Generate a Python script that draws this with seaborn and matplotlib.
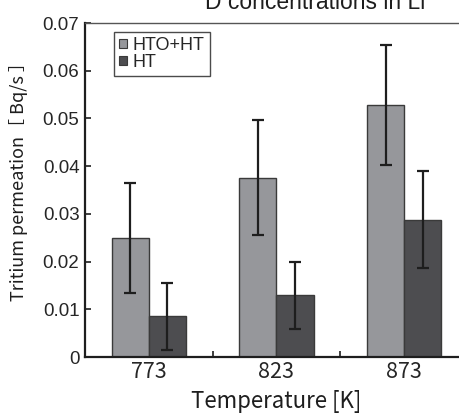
import numpy as np
import pandas as pd
import matplotlib
matplotlib.use("Agg")
import matplotlib.pyplot as plt
import seaborn as sns
from matplotlib.patches import Patch

# ================= DATA =================
temps = ["773", "823", "873"]
series = ["HTO+HT", "HT"]
hto_ht = [0.0250, 0.0376, 0.0528]
hto_ht_err = [0.0115, 0.0120, 0.0126]
ht = [0.0085, 0.0129, 0.0288]
ht_err = [0.0070, 0.0070, 0.0102]
colors = ["#96979b", "#4d4d50"]

df = pd.DataFrame({
    "temp": temps * 2,
    "kind": [series[0]] * 3 + [series[1]] * 3,
    "value": hto_ht + ht,
    "err": hto_ht_err + ht_err,
})

sns.set_style("white")
plt.rcParams["font.family"] = ["Liberation Sans", "DejaVu Sans"]
cjk = ["Noto Sans CJK JP", "DejaVu Sans"]

fig = plt.figure(figsize=(4.59, 4.20), dpi=100)
ax = fig.add_axes([85 / 459, 63 / 420, 383 / 459, 334 / 420])

sns.barplot(data=df, x="temp", y="value", hue="kind", order=temps,
            hue_order=series, palette=colors, errorbar=None, width=0.58,
            saturation=1, edgecolor="#3a3a3a", linewidth=1.0, ax=ax,
            legend=False)

# error bars at bar centres
for i, s in enumerate(series):
    sub = df[df["kind"] == s].set_index("temp").loc[temps]
    bars = ax.patches[i * 3:(i + 1) * 3]
    xs = [b.get_x() + b.get_width() / 2 for b in bars]
    ax.errorbar(xs, sub["value"], yerr=sub["err"], fmt="none",
                ecolor="#1e1e1e", elinewidth=1.6, capsize=4, capthick=1.6)

ax.set_xlim(-0.5, 2.5)
ax.set_ylim(0, 0.07)
ax.set_yticks(np.arange(0, 0.071, 0.01))
ax.set_yticklabels(["0"] + [f"{v:.2f}" for v in np.arange(0.01, 0.071, 0.01)],
                   fontsize=13.5)
ax.set_xticks([0, 1, 2])
ax.set_xticklabels(temps, fontsize=15.5, family=cjk)
ax.set_xticks([0.5, 1.5], minor=True)
ax.tick_params(axis="x", which="major", length=0, pad=3)
ax.tick_params(axis="x", which="minor", direction="in", length=4, width=1.2,
               color="#1e1e1e", bottom=True)
ax.tick_params(axis="y", direction="in", length=4, width=1.2, color="#1e1e1e",
               left=True, pad=4)

for side in ["left", "bottom"]:
    ax.spines[side].set_color("#1e1e1e")
    ax.spines[side].set_linewidth(1.6)
ax.spines["top"].set_color("#555555")
ax.spines["top"].set_linewidth(1.0)
ax.spines["right"].set_visible(False)

ax.set_xlabel("Temperature [K]", fontsize=16, labelpad=5, family=cjk,
              color="#1e1e1e")
ax.set_ylabel("Tritium permeation［ Bq/s ］", fontsize=13, labelpad=4,
              family=cjk, color="#1e1e1e")
ax.yaxis.set_label_coords(-0.148, 0.54)

handles = [Patch(facecolor=c, edgecolor="#3a3a3a", linewidth=0.8) for c in colors]
leg = ax.legend(handles, series, loc="upper left", bbox_to_anchor=(0.065, 0.985),
                fontsize=13, frameon=True, fancybox=False, handlelength=0.45,
                handleheight=0.45, handletextpad=0.3, borderpad=0.3,
                labelspacing=0.0, borderaxespad=0.2)
leg.get_frame().set_edgecolor("#1e1e1e")
leg.get_frame().set_linewidth(1.0)

fig.text(205 / 459, 1 - 9 / 420, "D concentrations in Li", fontsize=16.5,
         ha="left", va="baseline", color="#1e1e1e")

fig.savefig("out.png", dpi=100)
